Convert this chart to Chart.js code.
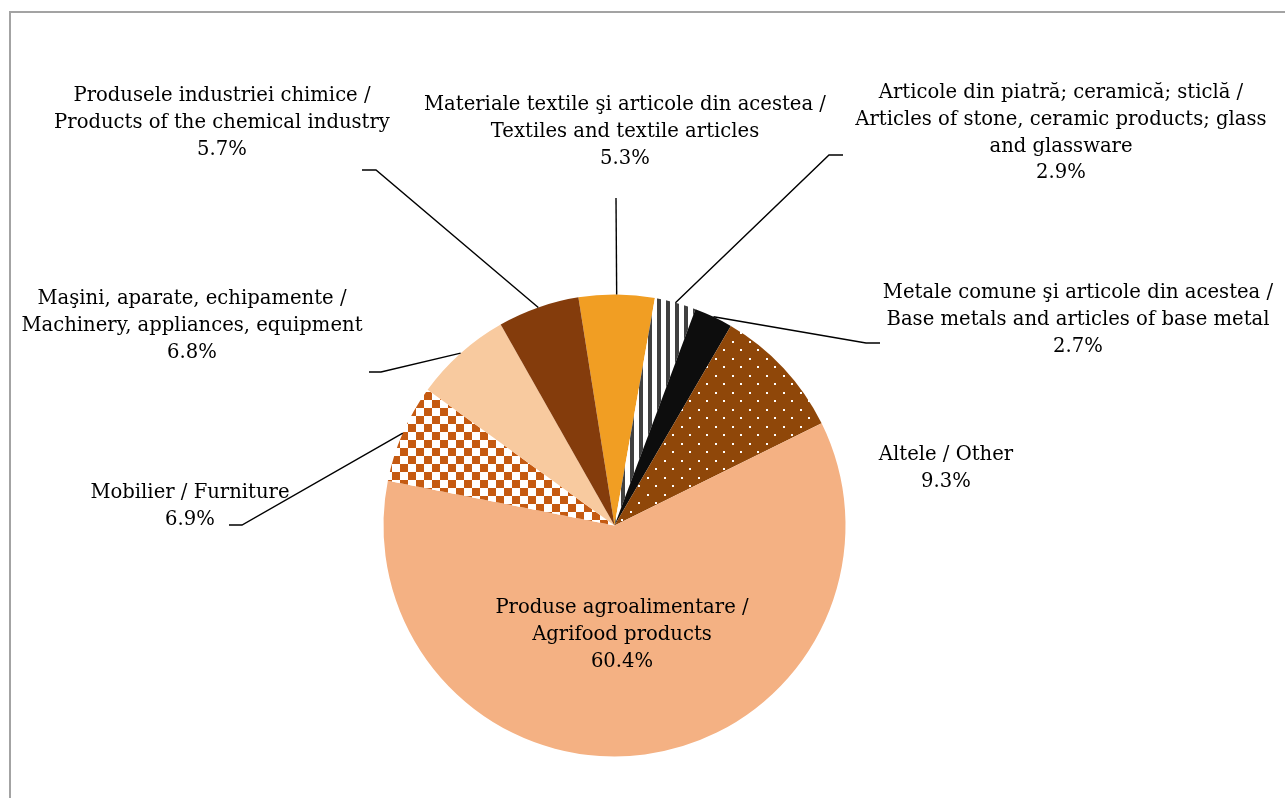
<!DOCTYPE html>
<html>
<head>
<meta charset="utf-8">
<script src="https://cdn.jsdelivr.net/npm/chart.js@4/dist/chart.umd.min.js"></script>
<style>
  html, body { margin: 0; padding: 0; background: #fff; overflow: hidden; }
  #frame { position: absolute; left: 9px; top: 11px; width: 1300px; height: 820px;
           border-top: 2px solid #a3a3a3; border-left: 2px solid #a3a3a3; }
  #exp-chart { position: absolute; left: 0; top: 0; }
</style>
</head>
<body>
<div id="frame"></div>
<canvas id="exp-chart" width="1285" height="798"></canvas>
<script>
// slice order, clockwise from the top
const categories = [
  ["Materiale textile şi articole din acestea /", "Textiles and textile articles"],
  ["Articole din piatră; ceramică; sticlă /", "Articles of stone, ceramic products; glass", "and glassware"],
  ["Metale comune şi articole din acestea /", "Base metals and articles of base metal"],
  ["Altele / Other"],
  ["Produse agroalimentare /", "Agrifood products"],
  ["Mobilier / Furniture"],
  ["Maşini, aparate, echipamente /", "Machinery, appliances, equipment"],
  ["Produsele industriei chimice /", "Products of the chemical industry"]
];
const shares = [5.3, 2.9, 2.7, 9.3, 60.4, 6.9, 6.8, 5.7];

const makePattern = (w, h, paint) => {
  const c = document.createElement("canvas");
  c.width = w; c.height = h;
  const g = c.getContext("2d");
  paint(g);
  return g.createPattern(c, "repeat");
};

const stripes = makePattern(9, 4, (g) => {
  g.fillStyle = "#ffffff"; g.fillRect(0, 0, 9, 4);
  g.fillStyle = "#404040"; g.fillRect(0, 0, 4, 4);
});
const dots = makePattern(17, 17, (g) => {
  g.fillStyle = "#8f4709"; g.fillRect(0, 0, 17, 17);
  g.fillStyle = "#ffffff";
  g.fillRect(1, 1, 2, 2);
  g.fillRect(9, 9, 2, 2);
});
const checker = makePattern(16, 16, (g) => {
  g.fillStyle = "#ffffff"; g.fillRect(0, 0, 16, 16);
  g.fillStyle = "#c55a11";
  g.fillRect(0, 0, 8, 8);
  g.fillRect(8, 8, 8, 8);
});

const sliceColors = ["#f19e23", stripes, "#0d0d0d", dots, "#f4b183", checker, "#f8ca9f", "#843c0c"];

// label placement (centre x, y of first line) and leader elbows, by slice
const labelSpots = [
  { x: 625, y: 105, leader: [[616, 198], [616, 198]] },
  { x: 1061, y: 93, leader: [[843, 155], [829, 155]] },
  { x: 1078, y: 293, leader: [[880, 343], [866, 343]] },
  { x: 946, y: 455, leader: null },
  { x: 622, y: 608, leader: null },
  { x: 190, y: 493, leader: [[229, 525], [242, 525]] },
  { x: 192, y: 299, leader: [[369, 372], [381, 372]] },
  { x: 222, y: 96, leader: [[362, 170], [376, 170]] }
];

const sliceLabels = {
  id: "sliceLabels",
  afterDraw(chart) {
    const ctx = chart.ctx;
    const arcs = chart.getDatasetMeta(0).data;
    ctx.save();
    ctx.strokeStyle = "#000";
    ctx.lineWidth = 1.4;
    arcs.forEach((arc, i) => {
      const spot = labelSpots[i];
      if (!spot.leader) return;
      const mid = (arc.startAngle + arc.endAngle) / 2;
      const px = arc.x + Math.cos(mid) * arc.outerRadius;
      const py = arc.y + Math.sin(mid) * arc.outerRadius;
      ctx.beginPath();
      ctx.moveTo(spot.leader[0][0], spot.leader[0][1]);
      ctx.lineTo(spot.leader[1][0], spot.leader[1][1]);
      ctx.lineTo(px, py);
      ctx.stroke();
    });
    ctx.fillStyle = "#000";
    ctx.font = "19.6px 'DejaVu Serif'";
    ctx.textAlign = "center";
    ctx.textBaseline = "middle";
    categories.forEach((lines, i) => {
      const spot = labelSpots[i];
      const all = lines.concat([shares[i].toFixed(1) + "%"]);
      all.forEach((t, k) => ctx.fillText(t, spot.x, spot.y + k * 26.8));
    });
    ctx.restore();
  }
};

const ctx = document.getElementById("exp-chart").getContext("2d");
const expChart = new Chart(ctx, {
  type: "pie",
  data: {
    labels: categories.map((l) => l.join(" ")),
    datasets: [{
      data: shares,
      backgroundColor: sliceColors,
      borderWidth: 0
    }]
  },
  options: {
    responsive: false,
    animation: false,
    rotation: -9,
    radius: 231,
    layout: { padding: { left: 0, right: 56, top: 253, bottom: 0 } },
    plugins: {
      legend: { display: false },
      tooltip: { enabled: false }
    }
  },
  plugins: [sliceLabels]
});
</script>
</body>
</html>
